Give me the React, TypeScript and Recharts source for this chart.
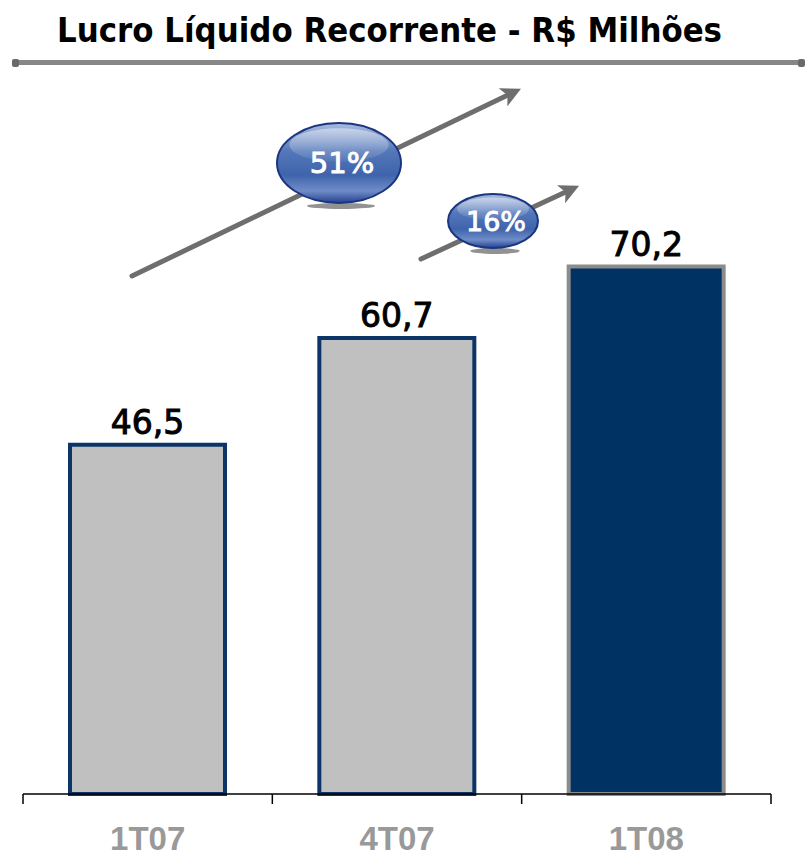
import React from "react";
import { BarChart, Bar, XAxis, YAxis, Cell, LabelList } from "recharts";

const categories = ["1T07", "4T07", "1T08"];
const values = [46.5, 60.7, 70.2];
const valueLabels = ["46,5", "60,7", "70,2"];
const growthLabels = ["51%", "16%"];
const title = "Lucro Líquido Recorrente - R$ Milhões";

const fills = ["#C0C0C0", "#C0C0C0", "#003264"];
const strokes = ["#0B3566", "#0B3566", "#8C8C8C"];

const data = categories.map((c, i) => ({ cat: c, v: values[i], label: valueLabels[i] }));

const CatTick = (props: any) => {
  const { x, y, payload, index, visibleTicksCount } = props;
  const half = payload && payload.offset ? payload.offset : 0;
  const isLast = index === (visibleTicksCount || categories.length) - 1;
  return (
    <g>
      <line x1={x - half} y1={y} x2={x - half} y2={y + 10} stroke="#000" strokeWidth={1.5} />
      {isLast && <line x1={x + half} y1={y} x2={x + half} y2={y + 10} stroke="#000" strokeWidth={1.5} />}
      <text
        x={x}
        y={y + 56}
        textAnchor="middle"
        fill="#999999"
        fontSize={33}
        fontWeight="bold"
        fontFamily="'Liberation Sans', Arial, sans-serif"
      >
        {payload.value}
      </text>
    </g>
  );
};

const Bubble = ({ cx, cy, rx, ry, text, fs, id }: any) => (
  <g>
    <ellipse cx={cx + 2} cy={cy + ry + 3} rx={rx * 0.55} ry={3} fill="#777" opacity={0.8} />
    <ellipse cx={cx} cy={cy} rx={rx} ry={ry} fill={`url(#bg${id})`} stroke="#1B357E" strokeWidth={2} />
    <ellipse cx={cx} cy={cy - ry * 0.45} rx={rx * 0.8} ry={ry * 0.42} fill={`url(#hl${id})`} />
    <text
      x={cx + 3}
      y={cy + fs * 0.36}
      textAnchor="middle"
      fill="#ffffff"
      fontSize={fs}
      fontFamily="'DejaVu Sans', sans-serif"
      stroke="#ffffff"
      strokeWidth={0.9}
    >
      {text}
    </text>
  </g>
);

const Arrow = ({ x1, y1, x2, y2 }: any) => (
  <line x1={x1} y1={y1} x2={x2} y2={y2} stroke="#6E6E6E" strokeWidth={5} markerEnd="url(#arrowhead)" strokeLinecap="round" />
);

export default function App() {
  return (
    <div style={{ position: "absolute", left: 0, top: 0, width: 809, height: 859, background: "#fff" }}>
      <BarChart
        width={809}
        height={859}
        data={data}
        margin={{ top: 193, right: 38, bottom: 0, left: 23 }}
        barSize={155}
      >
        <XAxis
          dataKey="cat"
          tickLine={false}
          tickSize={0}
          tickMargin={0}
          height={65}
          axisLine={{ stroke: "#000", strokeWidth: 1.5 }}
          tick={<CatTick />}
          interval={0}
        />
        <YAxis hide domain={[0, 80]} />
        <Bar dataKey="v" isAnimationActive={false} strokeWidth={4}>
          {data.map((d, i) => (
            <Cell key={d.cat} fill={fills[i]} stroke={strokes[i]} />
          ))}
          <LabelList
            dataKey="label"
            position="top"
            offset={11}
            fill="#000"
            fontSize={33}
            fontFamily="'DejaVu Sans', sans-serif"
            stroke="#000"
            strokeWidth={1}
          />
        </Bar>
      </BarChart>
      <svg
        width={809}
        height={859}
        style={{ position: "absolute", left: 0, top: 0, pointerEvents: "none" }}
      >
        <defs>
          <marker id="arrowhead" markerWidth="4" markerHeight="4" refX="2" refY="2" orient="auto">
            <path d="M0,0 L4,2 L0,4 L1,2 Z" fill="#6E6E6E" />
          </marker>
          {[0, 1].map((id) => (
            <linearGradient key={"bg" + id} id={`bg${id}`} x1="0" y1="0" x2="0" y2="1">
              <stop offset="0%" stopColor="#A9BCE0" />
              <stop offset="35%" stopColor="#5477B9" />
              <stop offset="65%" stopColor="#3F64AC" />
              <stop offset="85%" stopColor="#6F8CC8" />
              <stop offset="100%" stopColor="#23408E" />
            </linearGradient>
          ))}
          {[0, 1].map((id) => (
            <linearGradient key={"hl" + id} id={`hl${id}`} x1="0" y1="0" x2="0" y2="1">
              <stop offset="0%" stopColor="#ffffff" stopOpacity={0.45} />
              <stop offset="100%" stopColor="#ffffff" stopOpacity={0.05} />
            </linearGradient>
          ))}
        </defs>
        <text
          x={57}
          y={42}
          fontSize={33}
          fontWeight="bold"
          fontFamily="'DejaVu Sans', sans-serif"
          fill="#000"
          textLength={665}
          lengthAdjust="spacingAndGlyphs"
        >
          {title}
        </text>
        <line x1={16} y1={62.5} x2={801} y2={62.5} stroke="#878787" strokeWidth={5} />
        <rect x={12} y={59} width={7} height={8} rx={2} fill="#6A6A6A" />
        <rect x={798} y={59} width={7} height={8} rx={2} fill="#6A6A6A" />
        <Arrow x1={132} y1={276} x2={512} y2={93} />
        <Arrow x1={421} y1={259} x2={570} y2={190} />
        <Bubble cx={339} cy={163} rx={62} ry={40} text={growthLabels[0]} fs={29} id={0} />
        <Bubble cx={493} cy={221} rx={45} ry={27} text={growthLabels[1]} fs={27} id={1} />
      </svg>
    </div>
  );
}
